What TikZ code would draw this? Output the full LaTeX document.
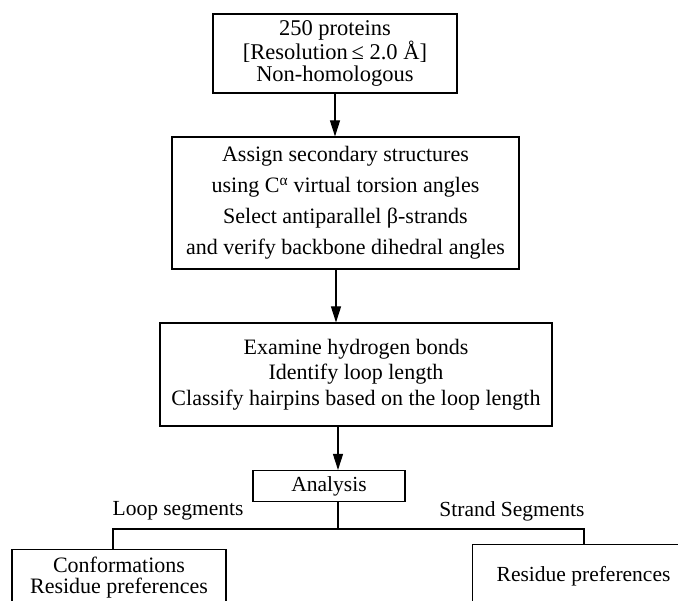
\documentclass[tikz,border=0pt]{standalone}
\usepackage{fontspec}
\setmainfont{Liberation Serif}
\usetikzlibrary{arrows.meta,calc}

\tikzset{
  stepbox/.style={draw, line width=1.1pt, align=center, inner sep=0pt},
  flow/.style={line width=1.1pt, -{Triangle[length=16pt,width=10pt]}},
  branch/.style={line width=1.1pt},
  label/.style={font=\fontsize{21.5}{25}\selectfont}
}

\begin{document}
\begin{tikzpicture}[x=1pt,y=-1pt]
\clip (0,0) rectangle (678,601);
\node [stepbox, minimum width=244pt, minimum height=79pt, font=\fontsize{22.5}{21.5}\selectfont] (prot) at (335,53.5)
  {250 proteins\\{}[Resolution\,≤ 2.0 Å]\\Non-homologous};
\node [stepbox, minimum width=347pt, minimum height=132pt, font=\fontsize{22}{31}\selectfont] (assign) at (345.5,203)
  {Assign secondary structures\\using C\textsuperscript{α} virtual torsion angles\\Select antiparallel β-strands\\and verify backbone dihedral angles};
\node [stepbox, minimum width=392pt, minimum height=103pt, font=\fontsize{22}{25.5}\selectfont] (hbond) at (356,374.5)
  {Examine hydrogen bonds\\Identify loop length\\Classify hairpins based on the loop length};
\node [stepbox, minimum width=152pt, minimum height=31pt, font=\fontsize{21.5}{25}\selectfont] (anal) at (329,486) {Analysis};

% open boxes at the bottom
\node [stepbox, anchor=north, minimum width=214pt, minimum height=56pt, font=\fontsize{22}{20.5}\selectfont] (loopbox) at (119,549)
  {Conformations\\Residue preferences};
\node [stepbox, anchor=north west, minimum width=222pt, minimum height=64pt, font=\fontsize{21.5}{25}\selectfont] (strandbox) at (472,544)
  {Residue preferences};

\node [label] (looplab) at (178,511) {Loop segments};
\node [label] (strandlab) at (512,511) {Strand Segments};

\draw [flow] (prot.south) -- (prot.south |- assign.north);
\draw [flow] ($(assign.south -| prot.south)+(1,0)$) -- ($(hbond.north -| prot.south)+(1,0)$);
\draw [flow] ($(hbond.south -| prot.south)+(3,0)$) -- ($(anal.north -| prot.south)+(3,0)$);
\coordinate (split) at (338,529);
\draw [branch] (anal.south -| split) -- (split);
\draw [branch] (split) -- (split -| 113,0) -- (113,549);
\draw [branch] (split) -- (split -| 584,0) -- (584,544);
\end{tikzpicture}
\end{document}
